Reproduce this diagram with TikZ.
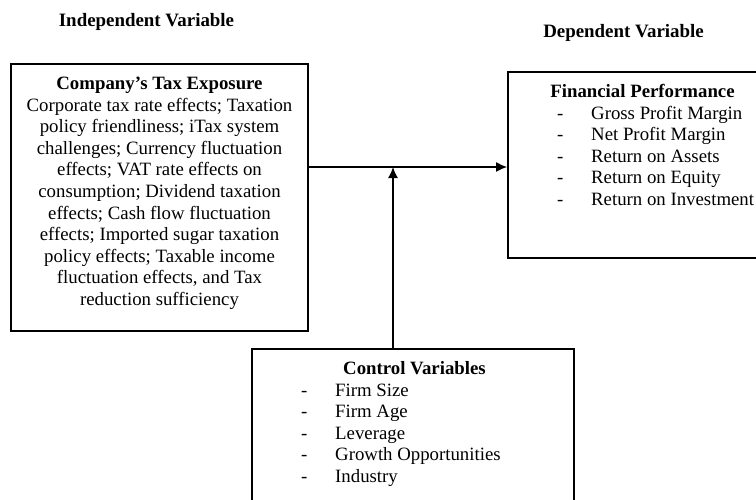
\documentclass[tikz,border=0pt]{standalone}
\usepackage{fontspec}
\setmainfont{Liberation Serif}
\usetikzlibrary{arrows.meta}
\tikzset{
  box/.style={draw, line width=1.8pt, inner sep=0pt},
  heading/.style={font=\fontsize{18.9}{21.6}\selectfont\bfseries, inner sep=0pt},
  body/.style={font=\fontsize{18.8}{21.6}\selectfont, inner sep=0pt},
  link/.style={line width=1.5pt, -{Latex[length=11pt,width=10pt]}}
}
\newcommand{\itemdash}{\makebox[34pt][l]{-}}

\begin{document}
\begin{tikzpicture}[x=1pt,y=-1pt]
			%%%%% START %%%%%
			
			\useasboundingbox (0,0) rectangle (756,499);
			\clip (0,0) rectangle (756,499);
			
			\node[heading, anchor=base] (indep) at (146.5,26.5) {Independent Variable};
			\node[heading, anchor=base] (dep) at (623.5,37) {Dependent Variable};
			
			\node[box, minimum width=297pt, minimum height=267pt] (tax) at (159.5,197.5) {};
			\node[body, anchor=base] (taxtext) at (159.5,89.5) {\begin{tabular}[t]{@{}c@{}}
				\textbf{Company’s Tax Exposure}\\
				Corporate tax rate effects; Taxation\\
				policy friendliness; iTax system\\
				challenges; Currency fluctuation\\
				effects; VAT rate effects on\\
				consumption; Dividend taxation\\
				effects; Cash flow fluctuation\\
				effects; Imported sugar taxation\\
				policy effects; Taxable income\\
				fluctuation effects, and Tax\\
				reduction sufficiency
			\end{tabular}};
			
			\node[box, minimum width=262pt, minimum height=186pt] (perf) at (639,165) {};
			\node[body, anchor=base] (perftitle) at (642.5,97.3) {\textbf{Financial Performance}};
			\node[body, anchor=base west] (perflist) at (557,119) {\begin{tabular}[t]{@{}l@{}}
				\itemdash Gross Profit Margin\\
				\itemdash Net Profit Margin\\
				\itemdash Return on Assets\\
				\itemdash Return on Equity\\
				\itemdash Return on Investment
			\end{tabular}};
			
			\node[box, minimum width=322pt, minimum height=171pt] (ctrl) at (413,434.5) {};
			\node[body, anchor=base] (ctrltitle) at (414.5,374) {\textbf{Control Variables}};
			\node[body, anchor=base west] (ctrllist) at (301,396) {\begin{tabular}[t]{@{}l@{}}
				\itemdash Firm Size\\
				\itemdash Firm Age\\
				\itemdash Leverage\\
				\itemdash Growth Opportunities\\
				\itemdash Industry
			\end{tabular}};
			
			\coordinate (join) at (393,167);
			\draw[link] (tax.east |- join) -- (perf.west |- join);
			\draw[link] (ctrl.north -| join) -- (join);
			
			%%%%% END %%%%%
		\end{tikzpicture}
\end{document}
